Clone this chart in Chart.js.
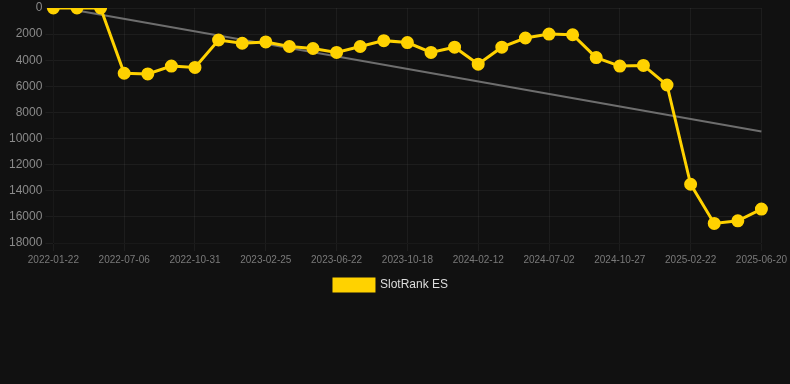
<!DOCTYPE html>
<html>
<head>
<meta charset="utf-8">
<script src="https://cdn.jsdelivr.net/npm/chart.js@4/dist/chart.umd.min.js"></script>
<style>
html,body{margin:0;padding:0;background:#111111;}
#wrap{width:790px;height:384px;position:relative;}
</style>
</head>
<body>
<div id="wrap"><canvas id="c" width="790" height="384"></canvas></div>
<script>
const categories = [
  "2022-01-22","2022-03-17","2022-05-11","2022-07-06","2022-08-14","2022-09-22",
  "2022-10-31","2022-12-09","2023-01-17","2023-02-25","2023-04-05","2023-05-14",
  "2023-06-22","2023-07-31","2023-09-08","2023-10-18","2023-11-26","2024-01-04",
  "2024-02-12","2024-03-28","2024-05-15","2024-07-02","2024-08-10","2024-09-18",
  "2024-10-27","2024-12-05","2025-01-13","2025-02-22","2025-04-02","2025-05-11",
  "2025-06-20"
];
const slotRankES = [
  0, 0, 0, 5000, 5050, 4450,
  4550, 2450, 2700, 2600, 2950, 3100,
  3400, 2950, 2500, 2650, 3400, 3000,
  4300, 3000, 2300, 2000, 2050, 3800,
  4450, 4400, 5900, 13500, 16500, 16300,
  15400
];
const trend = [
  null, 190, null, null, null, null, null, null, null, null, null, null, null, null, null, null,
  null, null, null, null, null, null, null, null, null, null, null, null, null, null, 9460
];
const yTicks = [0, 2000, 4000, 6000, 8000, 10000, 12000, 14000, 16000, 18000];

const legendShift = {
  id: 'legendShift',
  beforeDraw(chart) {
    const lg = chart.legend;
    if (lg._origLeft === undefined) { lg._origLeft = lg.left; lg._origRight = lg.right; }
    lg.left = lg._origLeft - 5;
    lg.right = lg._origRight - 5;
  }
};

new Chart(document.getElementById('c'), {
  type: 'line',
  data: {
    labels: categories,
    datasets: [
      {
        label: 'SlotRank ES',
        data: slotRankES,
        borderColor: '#FFD200',
        backgroundColor: '#FFD200',
        borderWidth: 3,
        pointRadius: 5,
        pointBackgroundColor: '#FFD200',
        pointBorderColor: '#FFD200',
        tension: 0,
        order: 1
      },
      {
        label: 'trend',
        data: trend,
        borderColor: '#6e6e6e',
        backgroundColor: '#6e6e6e',
        borderWidth: 2,
        pointRadius: 0,
        spanGaps: true,
        order: 2
      }
    ]
  },
  plugins: [legendShift],
  options: {
    responsive: false,
    animation: false,
    devicePixelRatio: 1,
    layout: { padding: { left: 6, right: 4, top: 0, bottom: 83 } },
    plugins: {
      legend: {
        position: 'bottom',
        labels: {
          color: '#dddddd',
          font: { family: 'Liberation Sans, Arial, sans-serif', size: 12 },
          boxWidth: 40,
          boxHeight: 12,
          filter: (item) => item.text !== 'trend'
        }
      },
      tooltip: { enabled: false }
    },
    scales: {
      x: {
        ticks: {
          color: '#7a7a7a',
          font: { family: 'Liberation Sans, Arial, sans-serif', size: 10 },
          autoSkip: false,
          maxRotation: 0,
          callback: function(v, i) { return i % 3 === 0 ? categories[i] : null; }
        },
        grid: { color: 'rgba(255,255,255,0.05)' }
      },
      y: {
        reverse: true,
        min: 0,
        max: 18000,
        afterBuildTicks: (axis) => { axis.ticks = yTicks.map(v => ({ value: v })); },
        ticks: {
          color: '#8a8a8a',
          font: { family: 'Liberation Sans, Arial, sans-serif', size: 12, lineHeight: 0.8 },
          callback: (v) => String(v)
        },
        grid: { color: 'rgba(255,255,255,0.05)' }
      }
    }
  }
});
</script>
</body>
</html>
